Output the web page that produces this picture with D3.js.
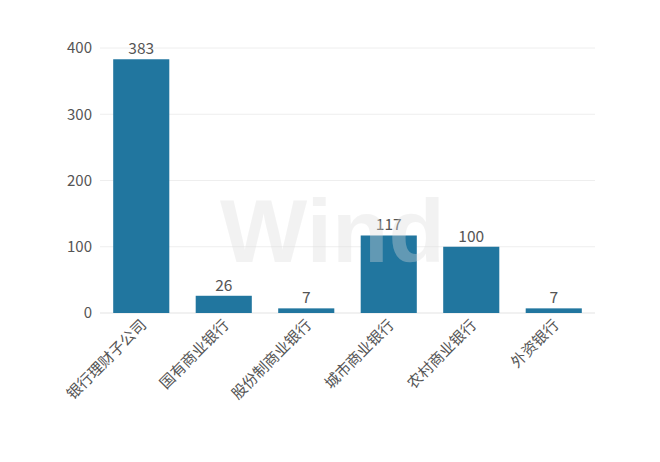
<!DOCTYPE html>
<html><head><meta charset="utf-8">
<script src="https://cdn.jsdelivr.net/npm/d3@7"></script>
<style>body{margin:0;background:#fff;} svg{display:block;}</style>
</head><body>
<script>
const categories = ["银行理财子公司","国有商业银行","股份制商业银行","城市商业银行","农村商业银行","外资银行"];
const values = [383, 26, 7, 117, 100, 7];
const yTicks = [0, 100, 200, 300, 400];

const W = 660, H = 462;
const m = {left: 100, right: 65, top: 48, bottom: 149};
const svg = d3.select("body").append("svg").attr("width", W).attr("height", H);
const font = "'Microsoft YaHei','Noto Sans CJK SC',sans-serif";

const x = d3.scaleBand().domain(categories).range([m.left, W - m.right]).paddingInner(0.32).paddingOuter(0.16);
const y = d3.scaleLinear().domain([0, 400]).range([H - m.bottom, m.top]);

// grid
svg.append("g").selectAll("line").data(yTicks).join("line")
  .attr("x1", m.left).attr("x2", W - m.right)
  .attr("y1", d => y(d)).attr("y2", d => y(d))
  .attr("stroke", d => d === 0 ? "#e3e3e3" : "#eeeeee").attr("stroke-width", 1);

// y axis labels
const yAxis = d3.axisLeft(y).tickValues(yTicks).tickSize(0).tickPadding(8);
const gy = svg.append("g").attr("transform", `translate(${m.left},0)`).call(yAxis);
gy.select(".domain").remove();
gy.selectAll("text").attr("font-family", font).attr("font-size", 15).attr("fill", "#555");

// bars
svg.append("g").selectAll("rect").data(values).join("rect")
  .attr("x", (d, i) => x(categories[i]))
  .attr("width", x.bandwidth())
  .attr("y", d => y(d))
  .attr("height", d => y(0) - y(d))
  .attr("fill", "#21769f");

// value labels
svg.append("g").selectAll("text").data(values).join("text")
  .attr("x", (d, i) => x(categories[i]) + x.bandwidth() / 2)
  .attr("y", d => y(d) - 5)
  .attr("text-anchor", "middle")
  .attr("font-family", font).attr("font-size", 15.5).attr("fill", "#555")
  .text(d => d);

// x axis labels
const xAxis = d3.axisBottom(x).tickSize(0).tickPadding(0);
const gx = svg.append("g").attr("transform", `translate(0,${y(0)})`).call(xAxis);
gx.select(".domain").remove();
gx.selectAll("text")
  .attr("font-family", font).attr("font-size", 15).attr("fill", "#555")
  .attr("text-anchor", "end")
  .attr("dy", "0").attr("y", 0)
  .attr("transform", "translate(6,13) rotate(-45)");

// watermark
svg.append("text").attr("x", 220).attr("y", 262)
  .attr("font-family", "'Liberation Sans',Arial,sans-serif").attr("font-weight", "bold")
  .attr("font-size", 89).attr("textLength", 225).attr("lengthAdjust", "spacingAndGlyphs")
  .attr("fill", "#dcdcdc").attr("opacity", 0.35).text("Wind");
</script>
</body></html>
